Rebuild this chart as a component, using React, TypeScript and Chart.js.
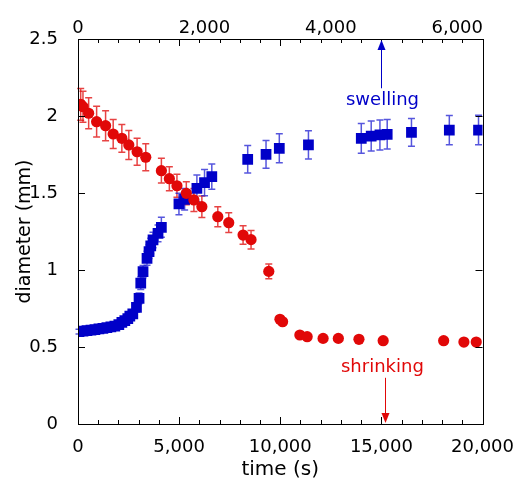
import React, { useEffect, useRef } from 'react';
import { Chart, registerables } from 'chart.js';
Chart.register(...registerables);

// Shrinking (bottom axis, seconds)
const shrinkTime = [133, 246, 527, 921, 1364, 1740, 2168, 2512, 2922, 3350, 4123, 4517, 4892, 5355, 5730, 6124, 6912, 7453, 8162, 8556, 9433, 9985, 10116, 10970, 11330, 12118, 12872, 13891, 15089, 18079, 19080, 19690];
const shrinkDiameter = [2.076, 2.06, 2.018, 1.963, 1.937, 1.883, 1.855, 1.812, 1.768, 1.732, 1.645, 1.593, 1.547, 1.498, 1.455, 1.411, 1.346, 1.307, 1.227, 1.197, 0.991, 0.68, 0.664, 0.578, 0.567, 0.556, 0.556, 0.55, 0.541, 0.541, 0.532, 0.532];
const shrinkError = [0.103, 0.1, 0.1, 0.1, 0.097, 0.094, 0.09, 0.094, 0.087, 0.087, 0.08, 0.078, 0.075, 0.075, 0.075, 0.07, 0.065, 0.064, 0.06, 0.06, 0.048, 0.02, 0.02, 0.01, 0.01, 0.01, 0.01, 0.01, 0.01, 0.01, 0.01, 0.01];

// Swelling (top axis, seconds)
const swellTime = [16, 79, 142, 205, 268, 331, 394, 457, 520, 583, 646, 694, 741, 788, 820, 867, 925, 966, 993, 1029, 1092, 1124, 1151, 1187, 1266, 1319, 1597, 1687, 1881, 2002, 2117, 2685, 2975, 3185, 3646, 4482, 4639, 4777, 4892, 5276, 5875, 6337];
const swellDiameter = [0.6, 0.603, 0.606, 0.61, 0.613, 0.617, 0.621, 0.626, 0.631, 0.636, 0.645, 0.66, 0.672, 0.685, 0.7, 0.715, 0.758, 0.816, 0.914, 0.989, 1.076, 1.119, 1.156, 1.195, 1.238, 1.277, 1.429, 1.459, 1.53, 1.567, 1.606, 1.719, 1.751, 1.79, 1.812, 1.855, 1.87, 1.877, 1.881, 1.894, 1.909, 1.909];
const swellError = [0.015, 0.015, 0.015, 0.015, 0.015, 0.015, 0.015, 0.015, 0.015, 0.015, 0.015, 0.02, 0.02, 0.02, 0.02, 0.02, 0.03, 0.035, 0.04, 0.04, 0.045, 0.045, 0.05, 0.05, 0.055, 0.065, 0.07, 0.07, 0.087, 0.085, 0.082, 0.089, 0.09, 0.094, 0.092, 0.097, 0.098, 0.097, 0.096, 0.09, 0.095, 0.096];

const bottomTicks = [0, 5000, 10000, 15000, 20000];
const topTicks = [0, 2000, 4000, 6000];
const yTicks = [0, 0.5, 1, 1.5, 2, 2.5];

const RED = 'rgb(225,8,8)';
const BLUE = 'rgb(0,0,200)';
const FONT = "'DejaVu Sans', Verdana, sans-serif";

const decorPlugin = {
  id: 'decor',
  beforeDatasetsDraw(chart: any) {
    const ctx = chart.ctx;
    const ys = chart.scales.y;
    chart.data.datasets.forEach((ds: any) => {
      const xs = chart.scales[ds.xAxisID];
      ctx.save();
      ctx.strokeStyle = ds.errorColor;
      ctx.lineWidth = 1.5;
      ds.data.forEach((p: any, j: number) => {
        const e = ds.errors[j];
        const px = xs.getPixelForValue(p.x);
        const y1 = ys.getPixelForValue(p.y - e);
        const y2 = ys.getPixelForValue(p.y + e);
        ctx.beginPath();
        ctx.moveTo(px, y1);
        ctx.lineTo(px, y2);
        ctx.moveTo(px - 3.5, y1);
        ctx.lineTo(px + 3.5, y1);
        ctx.moveTo(px - 3.5, y2);
        ctx.lineTo(px + 3.5, y2);
        ctx.stroke();
      });
      ctx.restore();
    });
  },
  afterDraw(chart: any) {
    const ctx = chart.ctx;
    const { left, right, top, bottom } = chart.chartArea;
    const xs = chart.scales.x;
    const ys = chart.scales.y;
    ctx.save();
    ctx.strokeStyle = '#000';
    ctx.lineWidth = 1;
    ctx.strokeRect(Math.round(left) + 0.5, Math.round(top) + 0.5, Math.round(right - left), Math.round(bottom - top));
    ctx.beginPath();
    for (let v = 0; v <= 20000; v += 1000) {
      const px = Math.round(xs.getPixelForValue(v)) + 0.5;
      const len = v % 5000 === 0 ? 7 : 4;
      ctx.moveTo(px, bottom);
      ctx.lineTo(px, bottom - len);
      ctx.moveTo(px, top);
      ctx.lineTo(px, top + len);
    }
    yTicks.forEach((v) => {
      const py = Math.round(ys.getPixelForValue(v)) + 0.5;
      ctx.moveTo(left, py);
      ctx.lineTo(left + 7, py);
      ctx.moveTo(right, py);
      ctx.lineTo(right - 7, py);
    });
    ctx.stroke();

    // annotations
    ctx.font = `18px ${FONT}`;
    ctx.textAlign = 'center';
    ctx.textBaseline = 'middle';
    // swelling
    const sx = Math.round(xs.getPixelForValue(15000)) + 0.5;
    ctx.fillStyle = BLUE;
    ctx.strokeStyle = BLUE;
    ctx.fillText('swelling', sx + 1, ys.getPixelForValue(2.1));
    const sTop = ys.getPixelForValue(2.5) + 1;
    ctx.beginPath();
    ctx.moveTo(sx, ys.getPixelForValue(2.18));
    ctx.lineTo(sx, sTop + 8);
    ctx.stroke();
    ctx.beginPath();
    ctx.moveTo(sx, sTop);
    ctx.lineTo(sx - 4, sTop + 10);
    ctx.lineTo(sx + 4, sTop + 10);
    ctx.closePath();
    ctx.fill();
    // shrinking
    const rx = Math.round(xs.getPixelForValue(15170)) + 0.5;
    ctx.fillStyle = RED;
    ctx.strokeStyle = RED;
    ctx.fillText('shrinking', xs.getPixelForValue(15050), ys.getPixelForValue(0.365));
    const rBot = ys.getPixelForValue(0) - 1;
    ctx.beginPath();
    ctx.moveTo(rx, ys.getPixelForValue(0.3));
    ctx.lineTo(rx, rBot - 8);
    ctx.stroke();
    ctx.beginPath();
    ctx.moveTo(rx, rBot);
    ctx.lineTo(rx - 4, rBot - 10);
    ctx.lineTo(rx + 4, rBot - 10);
    ctx.closePath();
    ctx.fill();
    ctx.restore();
  },
};

export default function App() {
  const ref = useRef<HTMLCanvasElement>(null);
  useEffect(() => {
    document.body.style.margin = '0';
    Chart.defaults.font.family = FONT;
    Chart.defaults.font.size = 18;
    Chart.defaults.color = '#000';
    const chart = new Chart(ref.current as HTMLCanvasElement, {
      type: 'scatter',
      data: {
        datasets: [
          {
            label: 'shrinking',
            xAxisID: 'x',
            yAxisID: 'y',
            data: shrinkTime.map((t, i) => ({ x: t, y: shrinkDiameter[i] })),
            errors: shrinkError,
            errorColor: 'rgba(225,20,20,0.8)',
            pointStyle: 'circle',
            pointRadius: 5.6,
            pointBackgroundColor: RED,
            pointBorderWidth: 0,
            showLine: false,
          } as any,
          {
            label: 'swelling',
            xAxisID: 'x2',
            yAxisID: 'y',
            data: swellTime.map((t, i) => ({ x: t, y: swellDiameter[i] })),
            errors: swellError,
            errorColor: 'rgba(30,30,210,0.75)',
            pointStyle: 'rect',
            pointRadius: 7.6,
            pointBackgroundColor: BLUE,
            pointBorderWidth: 0,
            showLine: false,
          } as any,
        ],
      },
      options: {
        responsive: false,
        animation: false,
        layout: { padding: 0 },
        plugins: { legend: { display: false }, tooltip: { enabled: false } },
        scales: {
          x: {
            type: 'linear',
            position: 'bottom',
            min: 0,
            max: 20000,
            grid: { display: false },
            border: { display: false },
            afterBuildTicks: (s: any) => { s.ticks = bottomTicks.map((v) => ({ value: v })); },
            afterFit: (s: any) => { s.height = 59; },
            ticks: { padding: 5, maxRotation: 0, autoSkip: false },
            title: { display: true, text: 'time (s)', font: { size: 20 }, padding: { top: 0, bottom: 1 } },
          },
          x2: {
            type: 'linear',
            position: 'top',
            min: 0,
            max: 6400,
            grid: { display: false },
            border: { display: false },
            afterBuildTicks: (s: any) => { s.ticks = topTicks.map((v) => ({ value: v })); },
            afterFit: (s: any) => { s.height = 39; },
            ticks: { padding: -8, maxRotation: 0, autoSkip: false },
          },
          y: {
            type: 'linear',
            position: 'left',
            min: 0,
            max: 2.5,
            grid: { display: false },
            border: { display: false },
            afterBuildTicks: (s: any) => { s.ticks = yTicks.map((v) => ({ value: v })); },
            afterFit: (s: any) => { s.width = 78; },
            ticks: { padding: 12, autoSkip: false, callback: (v: any) => String(v) },
            title: { display: true, text: 'diameter (mm)', font: { size: 19 }, padding: { top: 14, bottom: 0 } },
          },
          y2: {
            type: 'linear',
            position: 'right',
            min: 0,
            max: 2.5,
            grid: { display: false },
            border: { display: false },
            ticks: { display: false },
            afterFit: (s: any) => { s.width = 35; },
          },
        },
      } as any,
      plugins: [decorPlugin],
    });
    return () => chart.destroy();
  }, []);
  return (
    <div style={{ width: 519, height: 483 }}>
      <canvas ref={ref} width={519} height={483} style={{ display: 'block' }} />
    </div>
  );
}
